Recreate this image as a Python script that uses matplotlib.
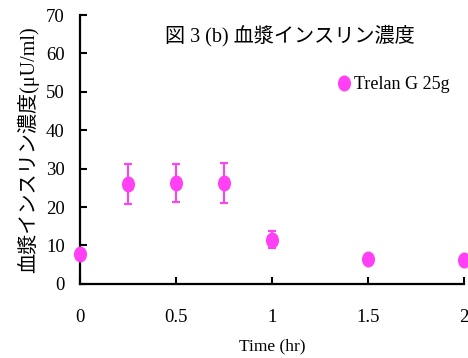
import matplotlib
matplotlib.use("Agg")
import matplotlib.pyplot as plt
from matplotlib.path import Path
from matplotlib.transforms import Affine2D

time_hr = [0, 0.25, 0.5, 0.75, 1.0, 1.5, 2.0]
insulin = [7.8, 26.0, 26.2, 26.2, 11.5, 6.4, 6.3]
insulin_err = [0.0, 5.3, 5.0, 5.2, 2.2, 0.0, 0.0]

series_label = "Trelan G 25g"
title = "図 3 (b) 血漿インスリン濃度"
ylabel = "血漿インスリン濃度(μU/ml)"
xlabel = "Time (hr)"
xticks = [0, 0.5, 1, 1.5, 2]
xticklabels = ["0", "0.5", "1", "1.5", "2"]
yticks = [0, 10, 20, 30, 40, 50, 60, 70]

color = "#ff40f5"
fonts = ["Liberation Serif", "Noto Sans CJK JP"]

plt.rcParams["font.family"] = fonts

# markers in the original are slightly taller than wide
ellipse = Path.unit_circle().transformed(Affine2D().scale(0.8, 1.0))

fig = plt.figure(figsize=(4.68, 3.58), dpi=100)
ax = fig.add_axes([0.171, 0.207, 0.82, 0.751])

ax.errorbar(time_hr, insulin, yerr=insulin_err, fmt="none", ecolor=color,
            elinewidth=1.5, capsize=3, capthick=1.5, clip_on=False, zorder=2)
ax.plot(time_hr, insulin, linestyle="none", marker=ellipse, markersize=10.5,
        color=color, clip_on=False, zorder=3, label=series_label)

ax.set_xlim(0, 2)
ax.set_ylim(0, 70)
ax.set_xticks(xticks)
ax.set_xticklabels(xticklabels)
ax.set_yticks(yticks)

for side in ["top", "right"]:
    ax.spines[side].set_visible(False)
for side in ["left", "bottom"]:
    ax.spines[side].set_linewidth(1.6)

ax.tick_params(axis="both", direction="in", length=5, width=1.5,
               labelsize=13.5)
ax.tick_params(axis="x", pad=18)
ax.tick_params(axis="y", pad=11)

ax.set_xlabel(xlabel, fontsize=12.5, labelpad=9)
ax.set_ylabel(ylabel, fontsize=14.5, labelpad=5)

fig.text(0.62, 0.90, title, fontsize=14.5, ha="center", va="center")

ax.legend(loc="center left", bbox_to_anchor=(0.674, 0.74), frameon=False,
          fontsize=13, handlelength=0.6, handletextpad=0.25,
          borderaxespad=0, borderpad=0, markerscale=1.0)

fig.savefig("out.png", dpi=100)
